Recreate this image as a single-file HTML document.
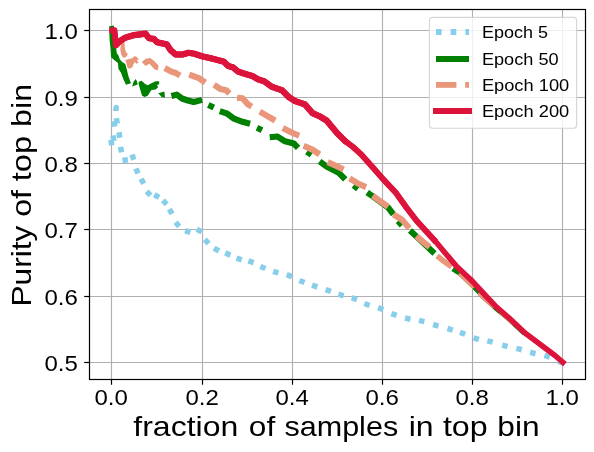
<!DOCTYPE html>
<html><head><meta charset="utf-8"><title>Purity of top bin</title>
<style>html,body{margin:0;padding:0;background:#fff;overflow:hidden}body{width:594px;height:452px;font-family:"Liberation Sans",sans-serif}</style></head>
<body>
<svg width="594" height="452" viewBox="0 0 594 452" style="display:block;will-change:transform">
<rect x="0" y="0" width="594" height="452" fill="#fff"/>
<g stroke="#b0b0b0" stroke-width="1.15" fill="none">
<line x1="111.50" y1="9.5" x2="111.50" y2="379.5"/>
<line x1="202.50" y1="9.5" x2="202.50" y2="379.5"/>
<line x1="292.50" y1="9.5" x2="292.50" y2="379.5"/>
<line x1="382.50" y1="9.5" x2="382.50" y2="379.5"/>
<line x1="472.50" y1="9.5" x2="472.50" y2="379.5"/>
<line x1="562.50" y1="9.5" x2="562.50" y2="379.5"/>
<line x1="89.5" y1="30.50" x2="585.5" y2="30.50"/>
<line x1="89.5" y1="97.50" x2="585.5" y2="97.50"/>
<line x1="89.5" y1="163.50" x2="585.5" y2="163.50"/>
<line x1="89.5" y1="229.50" x2="585.5" y2="229.50"/>
<line x1="89.5" y1="296.50" x2="585.5" y2="296.50"/>
<line x1="89.5" y1="362.50" x2="585.5" y2="362.50"/>
</g>
<clipPath id="ax"><rect x="89.5" y="9.5" width="496.0" height="370.0"/></clipPath>
<g clip-path="url(#ax)" fill="none" stroke-linejoin="round">
<g stroke="#87ceeb" stroke-width="5.55" stroke-linecap="butt">
<line x1="113.09" y1="135.36" x2="113.91" y2="140.84"/>
<line x1="110.99" y1="139.86" x2="111.81" y2="145.34"/>
<line x1="113.89" y1="121.06" x2="114.71" y2="126.54"/>
<path d="M113.10,110.90 L113.40,107.50 Q113.80,104.80 116.30,104.80 Q118.90,104.80 118.90,107.90 L118.70,110.90 Z" fill="#87ceeb" stroke="none"/>
<line x1="116.39" y1="118.16" x2="117.21" y2="123.64"/>
<line x1="118.99" y1="132.26" x2="119.81" y2="137.74"/>
<line x1="120.59" y1="146.86" x2="121.41" y2="152.34"/>
<line x1="124.79" y1="157.46" x2="125.61" y2="162.94"/>
<line x1="130.24" y1="158.00" x2="135.56" y2="156.40"/>
<line x1="135.98" y1="168.42" x2="138.02" y2="173.58"/>
<line x1="141.12" y1="178.84" x2="143.68" y2="183.76"/>
<line x1="146.67" y1="191.40" x2="150.53" y2="195.40"/>
<line x1="154.27" y1="194.76" x2="159.13" y2="197.44"/>
<line x1="162.93" y1="200.25" x2="166.67" y2="204.35"/>
<line x1="169.33" y1="209.09" x2="172.07" y2="213.91"/>
<line x1="175.60" y1="222.29" x2="179.20" y2="226.51"/>
<line x1="185.03" y1="230.76" x2="190.37" y2="232.24"/>
<line x1="196.84" y1="229.21" x2="201.76" y2="231.79"/>
<line x1="204.84" y1="239.44" x2="208.56" y2="243.56"/>
<line x1="214.11" y1="248.19" x2="218.89" y2="251.01"/>
<line x1="225.24" y1="252.92" x2="230.36" y2="255.08"/>
<line x1="236.47" y1="258.22" x2="241.73" y2="259.98"/>
<line x1="248.38" y1="260.88" x2="253.62" y2="262.72"/>
<line x1="260.34" y1="266.44" x2="265.46" y2="268.56"/>
<line x1="273.15" y1="271.29" x2="278.45" y2="272.91"/>
<line x1="286.69" y1="274.66" x2="291.91" y2="276.54"/>
<line x1="299.44" y1="280.44" x2="304.56" y2="282.56"/>
<line x1="312.07" y1="285.20" x2="317.33" y2="287.00"/>
<line x1="325.67" y1="289.61" x2="330.93" y2="291.39"/>
<line x1="338.35" y1="294.17" x2="343.65" y2="295.83"/>
<line x1="351.69" y1="297.65" x2="356.91" y2="299.55"/>
<line x1="364.40" y1="303.52" x2="369.60" y2="305.48"/>
<line x1="378.10" y1="307.64" x2="383.30" y2="309.56"/>
<line x1="391.40" y1="313.54" x2="396.60" y2="315.46"/>
<line x1="405.00" y1="317.97" x2="410.40" y2="319.23"/>
<line x1="419.00" y1="320.36" x2="424.40" y2="321.64"/>
<line x1="433.14" y1="324.52" x2="438.46" y2="326.08"/>
<line x1="447.44" y1="328.51" x2="452.76" y2="330.09"/>
<line x1="459.99" y1="332.36" x2="465.21" y2="334.24"/>
<line x1="473.54" y1="337.90" x2="478.86" y2="339.50"/>
<line x1="487.31" y1="340.83" x2="492.69" y2="342.17"/>
<line x1="502.22" y1="345.10" x2="507.58" y2="346.50"/>
<line x1="516.41" y1="348.41" x2="521.79" y2="349.79"/>
<line x1="530.21" y1="352.31" x2="535.59" y2="353.69"/>
<line x1="544.47" y1="355.43" x2="549.73" y2="357.17"/>
<line x1="558.15" y1="361.10" x2="563.25" y2="363.30"/>
</g>
<g stroke="#008000" stroke-width="6.1" stroke-linecap="butt">
<polyline points="171.4,96.0 176.8,94.6 182.0,98.5 187.8,100.5 193.7,102.0 202.1,99.9"/>
<polyline points="208.3,105.0 213.8,107.6"/>
<polyline points="219.8,111.1 227.3,113.7 234.1,118.7 242.5,121.8 250.1,123.8"/>
<polyline points="257.0,127.8 262.0,130.2"/>
<polyline points="269.7,137.3 277.4,136.5 285.0,141.3 293.8,143.5 298.1,147.8"/>
<polyline points="306.8,151.8 311.4,154.8"/>
<polyline points="319.6,161.4 326.6,166.5 338.8,172.8 345.3,179.4"/>
<polyline points="353.6,185.3 358.0,188.9"/>
<polyline points="367.2,192.5 373.0,196.6 380.3,201.9 388.0,207.4 393.4,214.4"/>
<polyline points="398.0,221.0 402.0,225.4"/>
<polyline points="410.0,230.6 424.0,243.5 434.5,253.5"/>
<polyline points="452.9,268.6 459.8,273.0 467.5,280.2 474.6,287.0 478.6,291.2 483.2,296.5 495.3,307.3 509.5,319.0 524.7,333.3" stroke-width="5.55"/>
<polygon points="109.2,26.3 113.9,25.6 114.5,40.0 116.1,48.0 116.7,53.0 118.5,55.4 119.8,59.2 121.6,61.6 125.3,64.1 126.6,68.4 128.4,75.9 130.9,83.3 126.0,84.8 123.5,79.6 121.0,72.8 118.5,69.1 117.9,62.9 114.8,60.4 111.1,57.3 110.5,48.0 109.6,40.0" fill="#008000" stroke="none"/>
<polygon points="132.2,86.4 133.5,82.0 135.5,79.0 136.8,81.0 137.7,84.6" fill="#008000" stroke="none"/>
<polygon points="138.4,82.1 141.5,80.8 145.2,83.9 147.7,85.2 151.4,83.3 155.7,81.2 159.2,81.2 159.2,83.9 156.9,85.2 158.2,87.0 155.7,89.5 151.4,90.1 147.7,95.7 144.6,96.9 142.1,95.7 140.0,88.9 139.0,85.2" fill="#008000" stroke="none"/>
<polygon points="158.2,93.2 164.4,91.4 165.0,97.6 161.9,97.3" fill="#008000" stroke="none"/>
</g>
<g stroke="#e9967a" stroke-width="6.1" stroke-linecap="butt">
<polyline points="164.8,68.0 170.7,71.3 175.8,73.0 180.0,75.6"/>
<polyline points="189.2,74.7 198.8,78.1 205.3,82.5"/>
<polyline points="214.1,84.7 220.6,89.1 226.1,90.2 229.4,93.5"/>
<polyline points="237.1,97.8 242.5,98.3 248.0,104.4 251.7,106.6"/>
<polyline points="259.8,111.7 267.5,116.1 275.2,120.5"/>
<polyline points="282.8,128.1 291.6,132.5 299.2,135.8"/>
<polyline points="303.6,145.7 312.4,149.6 319.6,154.4"/>
<polyline points="327.7,162.1 337.5,166.5 343.5,169.5"/>
<polyline points="349.7,178.3 358.5,183.8 366.1,187.1"/>
<polyline points="372.7,195.8 380.3,201.3 388.0,206.8"/>
<polyline points="393.5,214.4 402.2,219.9 409.3,228.3"/>
<polyline points="416.4,236.1 424.1,242.7 429.5,247.1"/>
<polyline points="437.2,255.8 443.8,261.3 451.6,266.8" stroke-width="5.55"/>
<polyline points="459.8,273.0 467.5,280.2 474.6,287.0" stroke-width="5.55"/>
<polyline points="479.5,292.2 483.2,296.5 494.5,306.6" stroke-width="5.55"/>
<polyline points="500.5,311.6 509.5,319.0 514.5,323.7" stroke-width="5.55"/>
<polygon points="121.6,42.0 124.5,42.0 124.9,48.6 126.2,52.4 127.9,54.1 126.6,56.6 124.1,57.9 122.0,56.2 120.7,52.8 120.3,48.6" fill="#e9967a" stroke="none"/>
<polygon points="125.4,60.0 132.1,58.3 134.2,56.2 136.3,56.6 138.8,59.6 136.7,60.4 138.8,62.5 136.7,63.8 134.6,62.1 132.1,67.6 129.2,68.8 127.5,67.6" fill="#e9967a" stroke="none"/>
<polygon points="141.8,62.1 145.6,58.7 150.2,57.9 153.6,60.4 158.6,65.5 157.8,70.5 154.4,69.2 149.4,63.8 145.6,65.9" fill="#e9967a" stroke="none"/>
</g>
<polyline points="111.9,30.3 114.4,30.2 116.0,45.2 120.0,41.0 125.3,37.7 133.7,35.2 145.5,33.7 148.9,38.2 153.8,38.9 157.0,42.2 164.0,43.8 166.8,44.4 170.7,50.3 175.8,54.5 182.5,54.5 188.4,52.8 194.3,53.7 202.0,56.3 211.9,58.5 223.9,61.7 228.3,66.1 232.7,67.2 238.2,71.6 244.7,73.8 252.4,76.0 257.8,79.2 264.4,81.4 272.1,86.9 281.9,90.2 288.5,96.8 295.1,101.1 304.9,104.4 312.6,113.2 320.0,116.5 326.6,120.5 337.5,133.6 345.6,141.4 353.1,147.0 361.4,154.6 372.0,166.5 383.5,179.6 395.7,192.5 406.6,207.8 416.8,221.0 431.6,237.2 436.0,242.0 445.4,253.2 456.2,265.9 465.5,274.7 471.8,280.6 486.4,296.5 496.0,306.6 509.8,318.7 525.0,333.0 540.0,344.2 555.0,355.5 562.9,362.3" stroke="#dc143c" stroke-width="5.55" stroke-linecap="square"/>
<polyline points="111.9,30.3 114.4,30.2 116.0,45.2 120.0,41.0 125.3,37.7 133.7,35.2 145.5,33.7 148.9,38.2 153.8,38.9 157.0,42.2 164.0,43.8 166.8,44.4 170.7,50.3 175.8,54.5 182.5,54.5 188.4,52.8 194.3,53.7 202.0,56.3 211.9,58.5 223.9,61.7 228.3,66.1 232.7,67.2 238.2,71.6 244.7,73.8 252.4,76.0 257.8,79.2 264.4,81.4 272.1,86.9 281.9,90.2 288.5,96.8 295.1,101.1 304.9,104.4 312.6,113.2 320.0,116.5 326.6,120.5 337.5,133.6 345.6,141.4 353.1,147.0 361.4,154.6 372.0,166.5 383.5,179.6 395.7,192.5 406.6,207.8 416.8,221.0 431.6,237.2 436.0,242.0" stroke="#dc143c" stroke-width="5.9" stroke-linecap="butt"/>
<polyline points="116.0,45.2 120.0,41.0 125.3,37.7 133.7,35.2 145.5,33.7 148.9,38.2 153.8,38.9 157.0,42.2 164.0,43.8 166.8,44.4 170.7,50.3 175.8,54.5 182.5,54.5 188.4,52.8 194.3,53.7 202.0,56.3 211.9,58.5 223.9,61.7 228.3,66.1 232.7,67.2 238.2,71.6 244.7,73.8 252.4,76.0 257.8,79.2 264.4,81.4 272.1,86.9 281.9,90.2 288.5,96.8 295.1,101.1 304.9,104.4 312.6,113.2 320.0,116.5 326.6,120.5 337.5,133.6 345.6,141.4" stroke="#dc143c" stroke-width="6.2" stroke-linecap="round"/>
</g>
<rect x="89.5" y="9.5" width="496.0" height="370.0" fill="none" stroke="#000" stroke-width="1.2"/>
<g stroke="#000" stroke-width="1.2">
<line x1="111.50" y1="379.5" x2="111.50" y2="384.7"/>
<line x1="202.50" y1="379.5" x2="202.50" y2="384.7"/>
<line x1="292.50" y1="379.5" x2="292.50" y2="384.7"/>
<line x1="382.50" y1="379.5" x2="382.50" y2="384.7"/>
<line x1="472.50" y1="379.5" x2="472.50" y2="384.7"/>
<line x1="562.50" y1="379.5" x2="562.50" y2="384.7"/>
<line x1="84.2" y1="30.50" x2="89.5" y2="30.50"/>
<line x1="84.2" y1="97.50" x2="89.5" y2="97.50"/>
<line x1="84.2" y1="163.50" x2="89.5" y2="163.50"/>
<line x1="84.2" y1="229.50" x2="89.5" y2="229.50"/>
<line x1="84.2" y1="296.50" x2="89.5" y2="296.50"/>
<line x1="84.2" y1="362.50" x2="89.5" y2="362.50"/>
</g>
<g font-family="Liberation Sans, sans-serif" font-size="22.7" fill="#000">
<text x="94.40" y="405.0" textLength="33.4" lengthAdjust="spacingAndGlyphs">0.0</text>
<text x="185.40" y="405.0" textLength="33.4" lengthAdjust="spacingAndGlyphs">0.2</text>
<text x="275.40" y="405.0" textLength="33.4" lengthAdjust="spacingAndGlyphs">0.4</text>
<text x="365.40" y="405.0" textLength="33.4" lengthAdjust="spacingAndGlyphs">0.6</text>
<text x="455.40" y="405.0" textLength="33.4" lengthAdjust="spacingAndGlyphs">0.8</text>
<text x="545.40" y="405.0" textLength="33.4" lengthAdjust="spacingAndGlyphs">1.0</text>
<text x="44.4" y="39.10" textLength="33.4" lengthAdjust="spacingAndGlyphs">1.0</text>
<text x="44.4" y="106.10" textLength="33.4" lengthAdjust="spacingAndGlyphs">0.9</text>
<text x="44.4" y="172.10" textLength="33.4" lengthAdjust="spacingAndGlyphs">0.8</text>
<text x="44.4" y="238.10" textLength="33.4" lengthAdjust="spacingAndGlyphs">0.7</text>
<text x="44.4" y="305.10" textLength="33.4" lengthAdjust="spacingAndGlyphs">0.6</text>
<text x="44.4" y="371.10" textLength="33.4" lengthAdjust="spacingAndGlyphs">0.5</text>
</g>
<g font-family="Liberation Sans, sans-serif" font-size="28.1" fill="#000">
<text x="133.30" y="436.3" textLength="105.11" lengthAdjust="spacingAndGlyphs">fraction</text>
<text x="248.84" y="436.3" textLength="26.37" lengthAdjust="spacingAndGlyphs">of</text>
<text x="284.45" y="436.3" textLength="113.74" lengthAdjust="spacingAndGlyphs">samples</text>
<text x="408.75" y="436.3" textLength="24.94" lengthAdjust="spacingAndGlyphs">in</text>
<text x="442.91" y="436.3" textLength="44.84" lengthAdjust="spacingAndGlyphs">top</text>
<text x="497.26" y="436.3" textLength="42.31" lengthAdjust="spacingAndGlyphs">bin</text>
<g transform="translate(31.1,306.5) rotate(-90)">
<text x="0.00" y="0" textLength="80.83" lengthAdjust="spacingAndGlyphs">Purity</text>
<text x="89.66" y="0" textLength="26.78" lengthAdjust="spacingAndGlyphs">of</text>
<text x="125.27" y="0" textLength="45.52" lengthAdjust="spacingAndGlyphs">top</text>
<text x="179.62" y="0" textLength="42.96" lengthAdjust="spacingAndGlyphs">bin</text>
</g></g>
<rect x="429.4" y="17.4" width="147.2" height="110.8" rx="3" ry="3" fill="#fff" fill-opacity="0.8" stroke="#ccc" stroke-opacity="0.8" stroke-width="1.1"/>
<g stroke="none">
<rect x="436" y="29" width="5.6" height="6" fill="#87ceeb"/>
<rect x="450.7" y="29" width="5.6" height="6" fill="#87ceeb"/>
<rect x="465.4" y="29" width="3.6" height="6" fill="#87ceeb"/>
<rect x="436" y="56" width="33" height="6" fill="#008000"/>
<rect x="436" y="82" width="20.4" height="5.8" fill="#e9967a"/><rect x="465.2" y="82" width="3.8" height="5.8" fill="#e9967a"/>
<rect x="433" y="108" width="39" height="6" fill="#dc143c"/>
</g>
<g font-family="Liberation Sans, sans-serif" font-size="17.2" fill="#000">
<text x="481.9" y="38.40" textLength="66.0" lengthAdjust="spacingAndGlyphs">Epoch 5</text>
<text x="481.9" y="64.50" textLength="76.7" lengthAdjust="spacingAndGlyphs">Epoch 50</text>
<text x="481.9" y="90.90" textLength="87.3" lengthAdjust="spacingAndGlyphs">Epoch 100</text>
<text x="481.9" y="117.30" textLength="87.3" lengthAdjust="spacingAndGlyphs">Epoch 200</text>
</g>
</svg>
</body></html>
